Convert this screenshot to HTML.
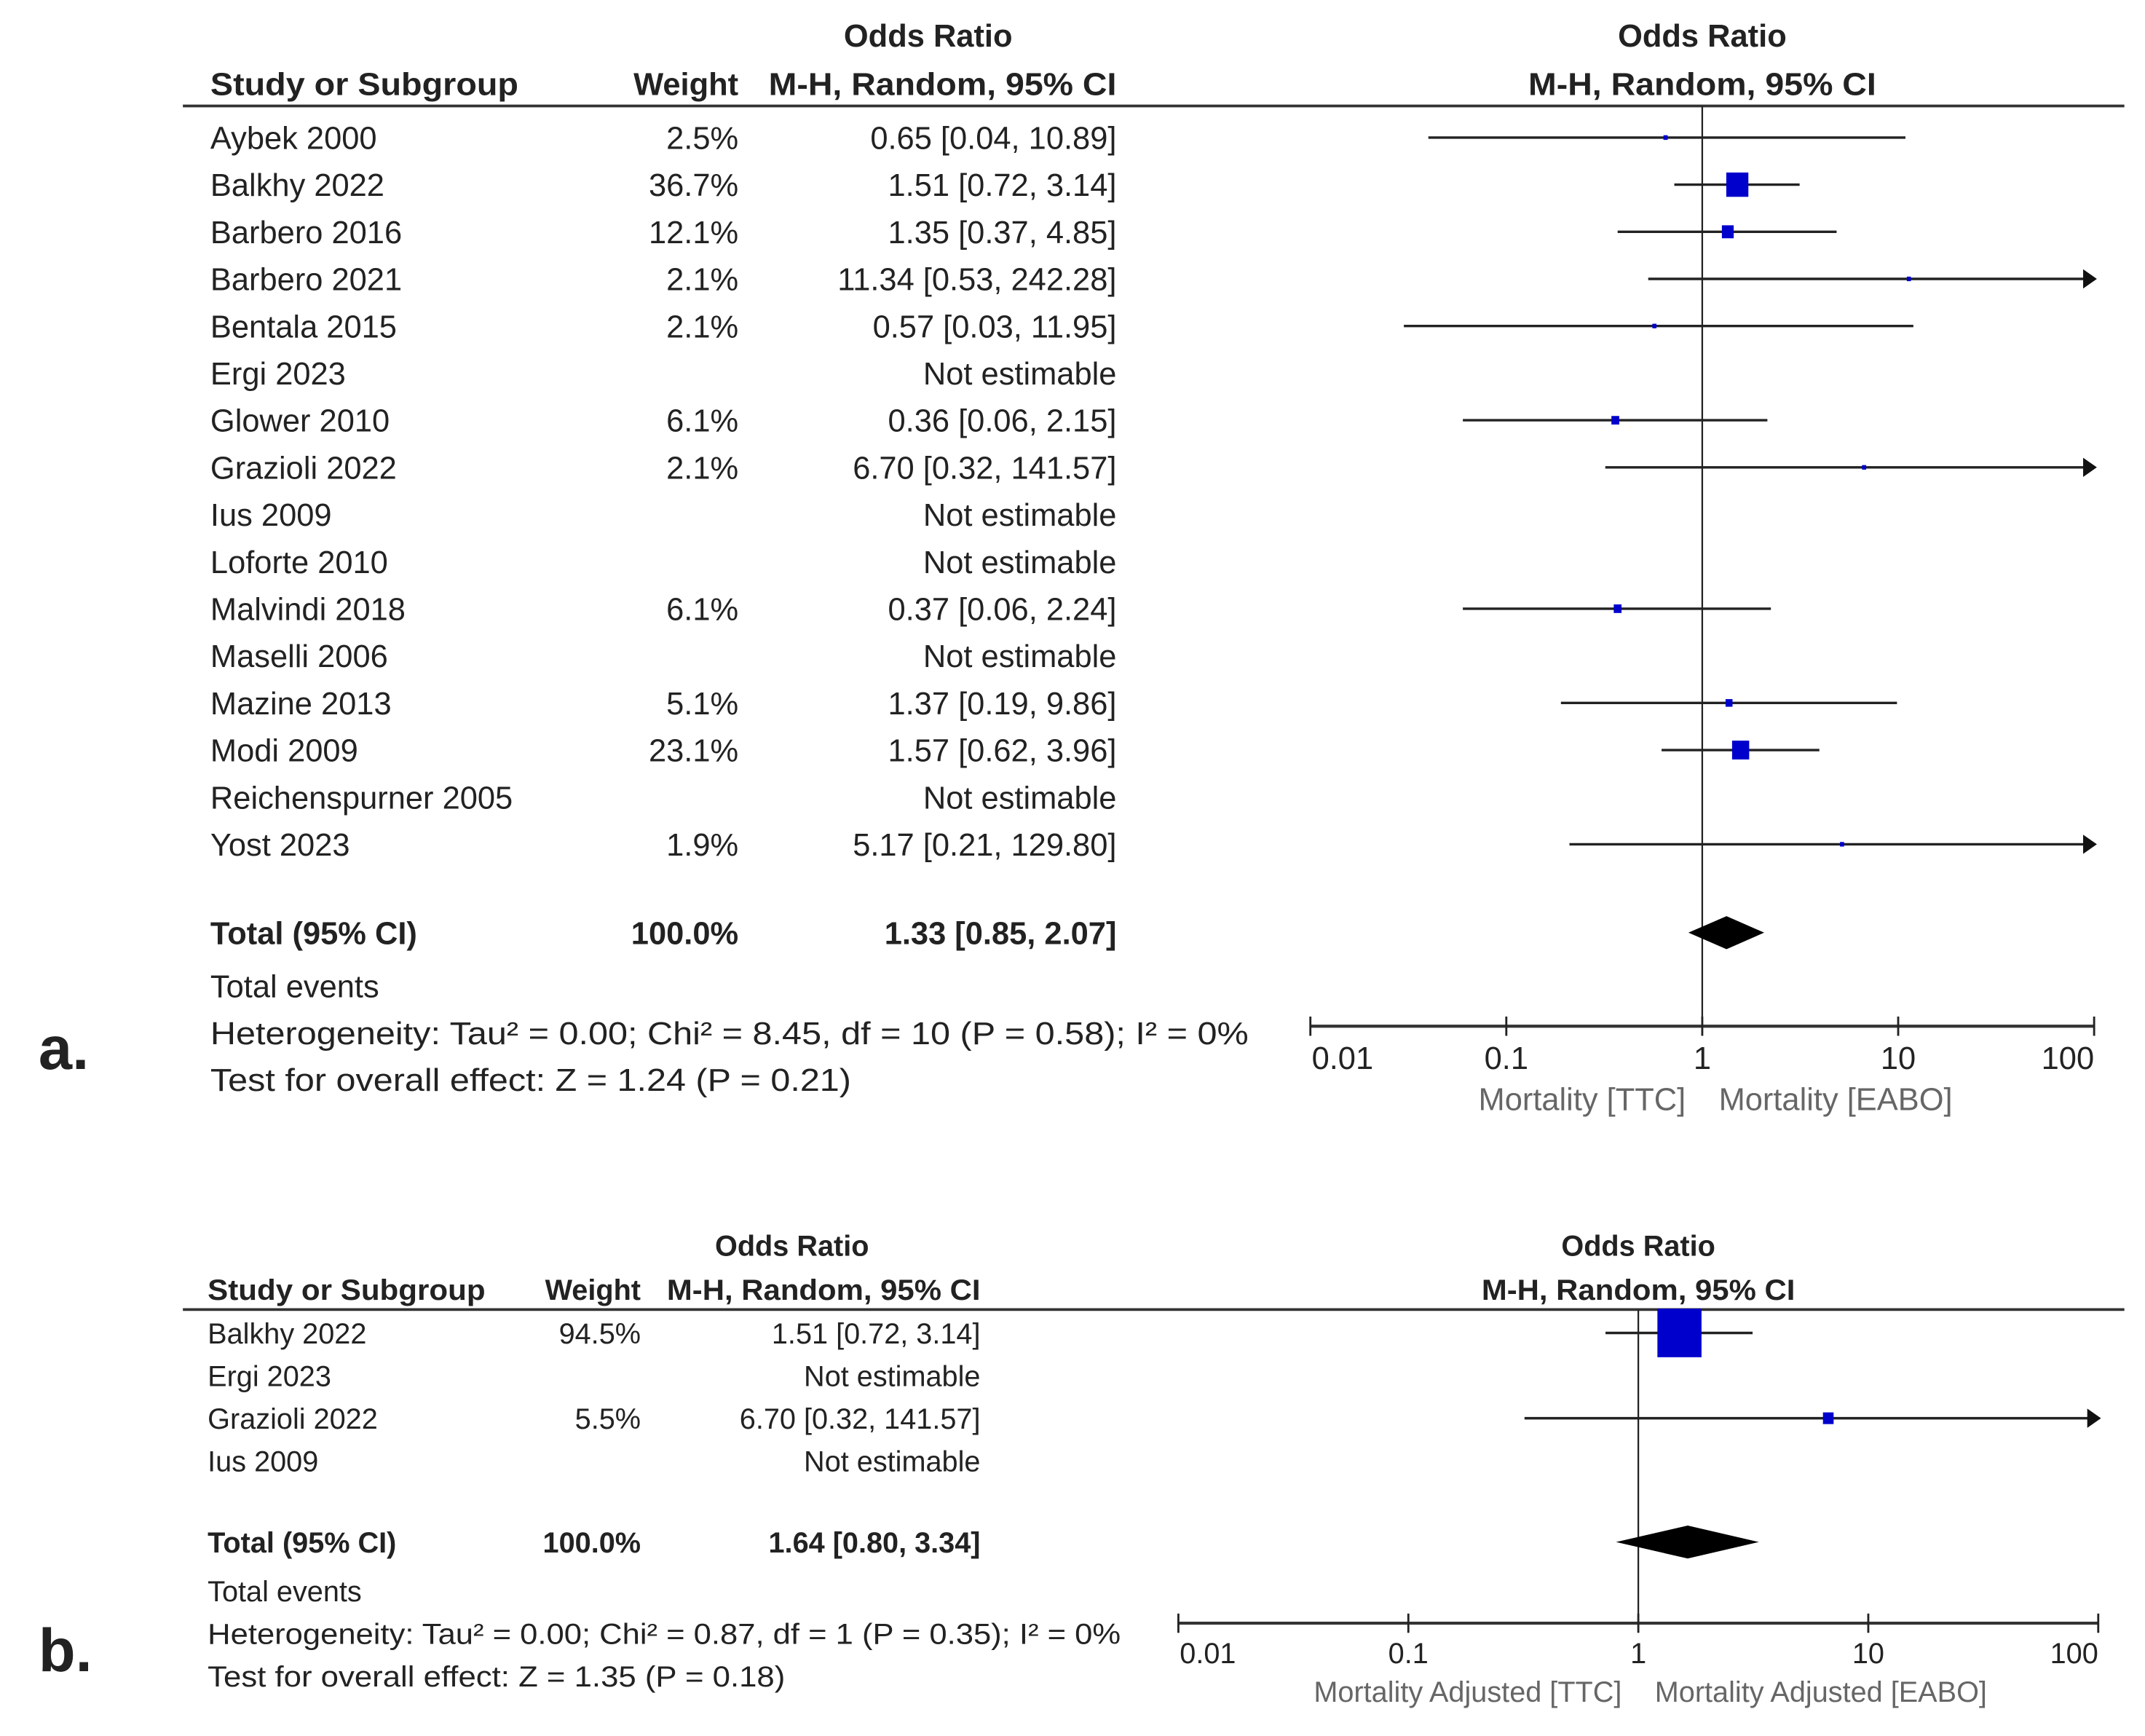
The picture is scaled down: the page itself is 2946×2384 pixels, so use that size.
<!DOCTYPE html>
<html><head><meta charset="utf-8">
<style>
html,body{margin:0;padding:0;background:#fff;}
svg{display:block;}
text{font-family:"Liberation Sans",Arial,sans-serif;fill:#222;}
.b{font-weight:bold;}
.g{fill:#666;}
</style></head>
<body>
<svg id="fig" width="2946" height="2384" viewBox="0 0 1560 1262" preserveAspectRatio="none" xmlns="http://www.w3.org/2000/svg"></svg>
<script>
// Panel a data
const studiesA = ["Aybek 2000","Balkhy 2022","Barbero 2016","Barbero 2021","Bentala 2015","Ergi 2023","Glower 2010","Grazioli 2022","Ius 2009","Loforte 2010","Malvindi 2018","Maselli 2006","Mazine 2013","Modi 2009","Reichenspurner 2005","Yost 2023"];
const weightsA = [2.5,36.7,12.1,2.1,2.1,null,6.1,2.1,null,null,6.1,null,5.1,23.1,null,1.9];
const orA = [0.65,1.51,1.35,11.34,0.57,null,0.36,6.70,null,null,0.37,null,1.37,1.57,null,5.17];
const lowA = [0.04,0.72,0.37,0.53,0.03,null,0.06,0.32,null,null,0.06,null,0.19,0.62,null,0.21];
const highA = [10.89,3.14,4.85,242.28,11.95,null,2.15,141.57,null,null,2.24,null,9.86,3.96,null,129.80];
const totalA = [1.33,0.85,2.07];
// Panel b data
const studiesB = ["Balkhy 2022","Ergi 2023","Grazioli 2022","Ius 2009"];
const weightsB = [94.5,null,5.5,null];
const orB = [1.51,null,6.70,null];
const lowB = [0.72,null,0.32,null];
const highB = [3.14,null,141.57,null];
const totalB = [1.64,0.80,3.34];
const tickLabels = ["0.01","0.1","1","10","100"];
const tickValues = [0.01,0.1,1,10,100];

const NS="http://www.w3.org/2000/svg";
const svg=document.getElementById('fig');
function el(tag,attrs,parent){const e=document.createElementNS(NS,tag);for(const k in attrs)e.setAttribute(k,attrs[k]);(parent||svg).appendChild(e);return e;}
function txt(s,x,y,size,anchor,cls,name,tl){const t=el('text',{x:x,y:y,'font-size':size,'text-anchor':anchor||'start'});if(cls)t.setAttribute('class',cls);if(tl){t.setAttribute('textLength',tl);t.setAttribute('lengthAdjust','spacingAndGlyphs');}


t.textContent=s;return t;}
function fmt(v){return v.toFixed(2);}

function panel(cfg){
  const xs=v=>cfg.x1+(Math.log10(v)-Math.log10(0.01))/4*(cfg.x2-cfg.x1);
  const fs=cfg.fs;
  txt("Odds Ratio",cfg.ciR-137,cfg.hy1,fs,'middle','b','table-odds-ratio-header');
  txt("Odds Ratio",xs(1),cfg.hy1,fs,'middle','b','plot-odds-ratio-header');
  txt("Study or Subgroup",cfg.nameX,cfg.hy2,fs,'start','b','study-column-header',cfg.hdrW);
  txt("Weight",cfg.wR,cfg.hy2,fs,'end','b','weight-column-header');
  txt("M-H, Random, 95% CI",cfg.ciR,cfg.hy2,fs,'end','b','ci-column-header',cfg.ciW);
  txt("M-H, Random, 95% CI",xs(1),cfg.hy2,fs,'middle','b','plot-ci-header',cfg.ciW);
  const hl=el('line',{x1:133,x2:1545,y1:cfg.lineY,y2:cfg.lineY,stroke:'#333','stroke-width':2});
  
  
  const nl=el('line',{x1:xs(1),x2:xs(1),y1:cfg.lineY,y2:cfg.axisY,stroke:'#222','stroke-width':1.2});
  
  
  cfg.studies.forEach((s,i)=>{
    const cy=cfg.row0+i*cfg.rowH, by=cy+fs*0.36;
    txt(s,cfg.nameX,by,fs,'start',null,'study-name');
    if(cfg.w[i]!=null){
      txt(cfg.w[i].toFixed(1)+"%",cfg.wR,by,fs,'end',null,'study-weight');
      txt(fmt(cfg.or[i])+" ["+fmt(cfg.lo[i])+", "+fmt(cfg.hi[i])+"]",cfg.ciR,by,fs,'end',null,'study-ci');
      const hiC=Math.min(cfg.hi[i],100);
      const wl=el('line',{x1:xs(cfg.lo[i]),x2:xs(hiC),y1:cy,y2:cy,stroke:'#222','stroke-width':1.8});
      
      
      if(cfg.hi[i]>100){
        const a=el('polygon',{points:`${xs(100)+2},${cy} ${xs(100)-8},${cy-7} ${xs(100)-8},${cy+7}`,fill:'#111'});
        
        
      }
      const sz=Math.max(3,cfg.sq*Math.sqrt(cfg.w[i])-cfg.sqOff);
      const r=el('rect',{x:xs(cfg.or[i])-sz/2,y:cy-sz*0.55,width:sz,height:sz*1.1,fill:'#0000cc'});
      
      
    } else {
      txt("Not estimable",cfg.ciR,by,fs,'end',null,'not-estimable');
    }
  });
  const ty=cfg.totalY, tb=ty+fs*0.36;
  txt("Total (95% CI)",cfg.nameX,tb,fs,'start','b','total-label');
  txt("100.0%",cfg.wR,tb,fs,'end','b','total-weight');
  txt(fmt(cfg.tot[0])+" ["+fmt(cfg.tot[1])+", "+fmt(cfg.tot[2])+"]",cfg.ciR,tb,fs,'end','b','total-ci');
  const d=el('polygon',{points:`${xs(cfg.tot[1])},${ty} ${xs(cfg.tot[0])},${ty-cfg.dh} ${xs(cfg.tot[2])},${ty} ${xs(cfg.tot[0])},${ty+cfg.dh}`,fill:'#000'});
  
  
  txt("Total events",cfg.nameX,cfg.evY,fs,'start',null,'total-events');
  txt(cfg.het,cfg.nameX,cfg.hetY,fs,'start',null,'heterogeneity',cfg.hetW);
  txt(cfg.test,cfg.nameX,cfg.testY,fs,'start',null,'overall-effect-test',cfg.testW);
  const ax=el('line',{x1:cfg.x1,x2:cfg.x2,y1:cfg.axisY,y2:cfg.axisY,stroke:'#333','stroke-width':2.2});
  
  
  tickValues.forEach((v,i)=>{
    const tk=el('line',{x1:xs(v),x2:xs(v),y1:cfg.axisY-7,y2:cfg.axisY+7,stroke:'#222','stroke-width':1.5});
    
    
    const anc=i==0?'start':(i==4?'end':'middle');
    txt(tickLabels[i],xs(v)+(i==0?1:0),cfg.axisY+cfg.tlOff,fs,anc,null,'x-tick-label');
  });
  txt(cfg.leftLab,xs(1)-12,cfg.labY,fs,'end','g','favours-left-label');
  txt(cfg.rightLab,xs(1)+12,cfg.labY,fs,'start','g','favours-right-label');
  txt(cfg.panel,28,cfg.panelY,44,'start','b','panel-label');
}

panel({fs:23,hy1:34,hy2:69,lineY:77,nameX:153,wR:537,ciR:812,hdrW:224,ciW:253,
  studies:studiesA,w:weightsA,or:orA,lo:lowA,hi:highA,tot:totalA,
  row0:100,rowH:34.25,sq:2.9,sqOff:1.5,totalY:678,dh:12,evY:725,hetY:759,testY:793,hetW:755,testW:466,
  het:"Heterogeneity: Tau² = 0.00; Chi² = 8.45, df = 10 (P = 0.58); I² = 0%",
  test:"Test for overall effect: Z = 1.24 (P = 0.21)",
  x1:953,x2:1523,axisY:746,tlOff:31,labY:807,leftLab:"Mortality [TTC]",rightLab:"Mortality [EABO]",panel:"a.",panelY:777});
panel({fs:21,hy1:913,hy2:945,lineY:952,nameX:151,wR:466,ciR:713,hdrW:202,ciW:228,
  studies:studiesB,w:weightsB,or:orB,lo:lowB,hi:highB,tot:totalB,
  row0:969,rowH:31,sq:3.3,sqOff:0,totalY:1121,dh:12,evY:1164,hetY:1195,testY:1226,hetW:664,testW:420,
  het:"Heterogeneity: Tau² = 0.00; Chi² = 0.87, df = 1 (P = 0.35); I² = 0%",
  test:"Test for overall effect: Z = 1.35 (P = 0.18)",
  x1:857,x2:1526,axisY:1180,tlOff:29,labY:1237,leftLab:"Mortality Adjusted [TTC]",rightLab:"Mortality Adjusted [EABO]",panel:"b.",panelY:1215});
</script>
</body></html>
